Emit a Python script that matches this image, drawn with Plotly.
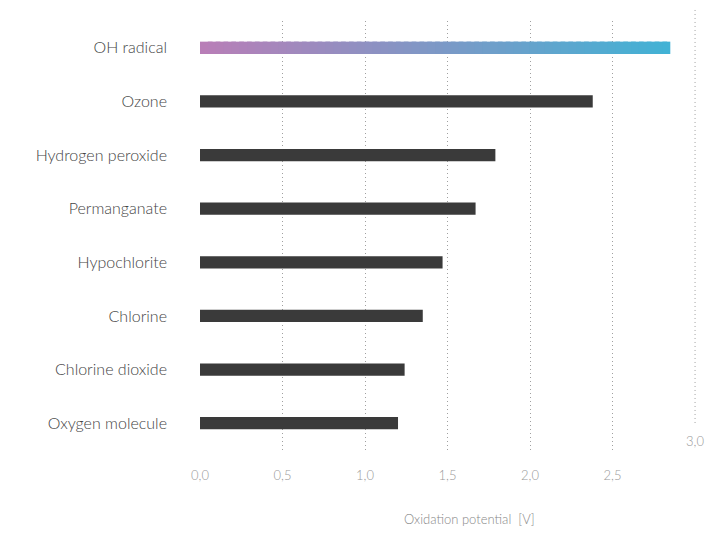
import plotly.graph_objects as go

# data
categories = [
    "OH radical",
    "Ozone",
    "Hydrogen peroxide",
    "Permanganate",
    "Hypochlorite",
    "Chlorine",
    "Chlorine dioxide",
    "Oxygen molecule",
]
potentials = [2.85, 2.38, 1.79, 1.67, 1.47, 1.35, 1.24, 1.20]
tick_vals = [0, 0.5, 1.0, 1.5, 2.0, 2.5]
tick_text = ["0,0", "0,5", "1,0", "1,5", "2,0", "2,5"]

BAR_GRAY = "#3a3a3a"
GRAD_START = (184, 126, 183)  # pink
GRAD_END = (66, 178, 213)  # blue
GRID_COLOR = "#a0a0a0"
FONT = "Lato"
BAR_W = 0.23


def _mix(t):
    r, g, b = (round(a + (b_ - a) * t) for a, b_ in zip(GRAD_START, GRAD_END))
    return f"rgb({r},{g},{b})"


fig = go.Figure()

# gradient bar: short overlapping pieces laid end to end (overlap hides seams)
n_steps = 60
top_cat, top_val = categories[0], potentials[0]
step = top_val / n_steps
for i in range(n_steps):
    start = i * step
    fig.add_trace(go.Bar(
        x=[min(step * 1.6, top_val - start)], y=[top_cat], base=[start],
        orientation="h",
        marker={"color": _mix(i / (n_steps - 1)), "line": {"width": 0}},
        width=BAR_W,
        hoverinfo="skip",
        showlegend=False,
    ))

# the plain gray bars
fig.add_trace(go.Bar(
    x=potentials[1:], y=categories[1:],
    orientation="h",
    marker={"color": BAR_GRAY, "line": {"width": 0}},
    width=BAR_W,
    showlegend=False,
))

# the stray 3,0 gridline / label (shifted in the original)
fig.add_shape(
    type="line", xref="x", yref="paper",
    x0=3.0, x1=3.0, y0=0.063, y1=1.05,
    line={"color": GRID_COLOR, "width": 1, "dash": "1px,3px"},
)
fig.add_annotation(
    x=3.0, xref="x", y=0.021, yref="paper", yanchor="middle",
    text="3,0", showarrow=False,
    font={"family": FONT, "size": 13, "color": "#999999", "weight": 300},
)
# axis title, set off-centre like the original
fig.add_annotation(
    x=0.538, xref="paper", y=-0.161, yref="paper", yanchor="middle",
    text="Oxidation potential  [V]", showarrow=False,
    font={"family": FONT, "size": 13, "color": "#888888", "weight": 300},
)

fig.update_layout(
    barmode="overlay",
    width=707, height=532,
    plot_bgcolor="white", paper_bgcolor="white",
    margin={"l": 192, "r": 15, "t": 13, "b": 90, "autoexpand": False},
    font={"family": FONT},
    xaxis={
        "range": [0, 3.03],
        "automargin": False,
        "tickvals": tick_vals,
        "ticktext": tick_text,
        "showgrid": True,
        "gridcolor": GRID_COLOR,
        "griddash": "1px,3px",
        "gridwidth": 1,
        "zeroline": False,
        "showline": False,
        "ticks": "",
        "ticklabelstandoff": 16,
        "tickfont": {"size": 13, "color": "#999999", "weight": 300},
    },
    yaxis={
        "categoryorder": "array",
        "categoryarray": categories[::-1],
        "range": [-0.5, 7.5],
        "automargin": False,
        "showgrid": False,
        "zeroline": False,
        "showline": False,
        "ticks": "",
        "ticklabelstandoff": 32,
        "tickfont": {"size": 16, "color": "#444444", "weight": 300},
    },
)

fig.write_html("out.html")
